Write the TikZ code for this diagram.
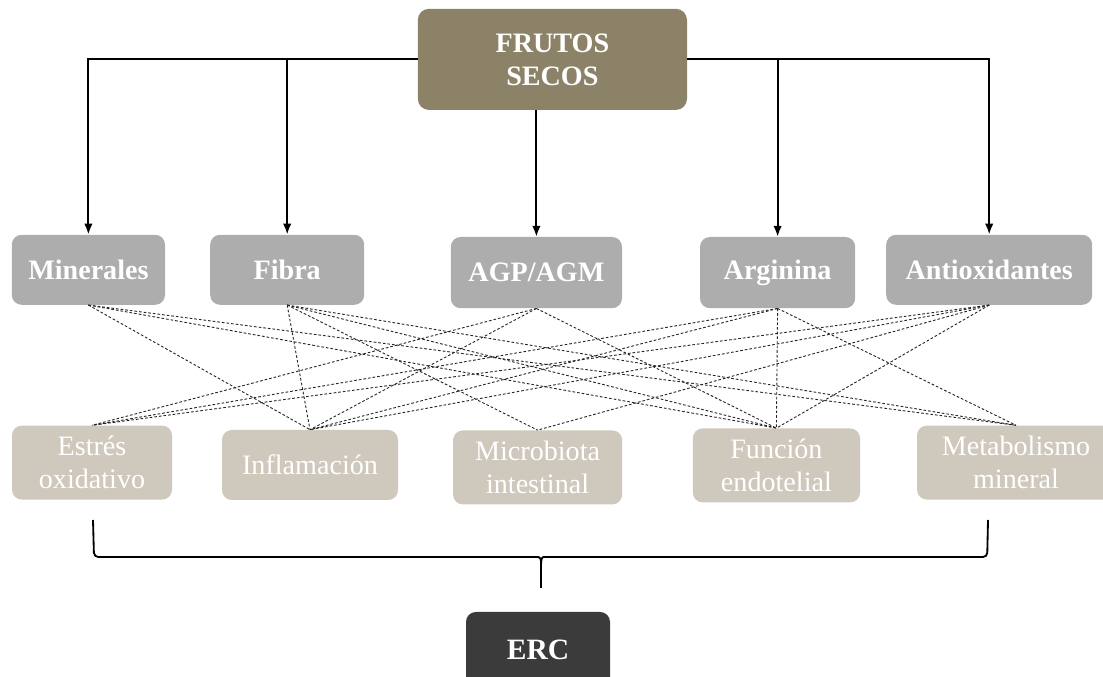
\documentclass[tikz,border=0pt]{standalone}
\usepackage{fontspec}
\setmainfont{Liberation Serif}
\usepackage{tikz}
\usetikzlibrary{arrows.meta}

\definecolor{nutbrown}{HTML}{8B8268}
\definecolor{compgray}{HTML}{ADADAD}
\definecolor{effbeige}{HTML}{CFC9BD}
\definecolor{ercdark}{HTML}{3B3B3B}

\begin{document}
\begin{tikzpicture}[
    >={Latex[length=2.7mm,width=2.1mm]},
    font=\fontsize{20}{23.5}\selectfont,
    every node/.style={align=center, text=white, inner sep=0pt},
    comp/.style={rectangle, rounded corners=7pt, fill=compgray, font=\fontsize{20}{23.5}\selectfont\bfseries, minimum height=1.75cm},
    effect/.style={rectangle, rounded corners=7pt, fill=effbeige, minimum height=1.85cm},
    line/.style={->, line width=1.3pt},
    link/.style={draw=black!85, line width=0.65pt, dash pattern=on 1.9pt off 1.4pt}
]
\useasboundingbox (0,0) rectangle (27.575,16.925);
\node[rectangle, rounded corners=8pt, fill=nutbrown, minimum width=6.73cm, minimum height=2.53cm, font=\fontsize{20}{23.5}\selectfont\bfseries] (frutos) at (13.81,15.44) {FRUTOS\\SECOS};
\node[comp, minimum width=3.83cm] (minerales) at (2.21,10.18) {Minerales};
\node[comp, minimum width=3.85cm] (fibra) at (7.18,10.18) {Fibra};
\node[comp, minimum width=4.28cm, minimum height=1.78cm] (agp) at (13.41,10.11) {AGP/AGM};
\node[comp, minimum width=3.88cm, minimum height=1.78cm] (arginina) at (19.44,10.11) {Arginina};
\node[comp, minimum width=5.15cm] (antiox) at (24.73,10.18) {Antioxidantes};
\node[effect, minimum width=4cm] (estres) at (2.30,5.36) {Estrés\\oxidativo};
\node[effect, minimum width=4.4cm, minimum height=1.75cm] (inflam) at (7.75,5.30) {Inflamación};
\node[effect, minimum width=4.23cm] (microbiota) at (13.44,5.24) {Microbiota\\intestinal};
\node[effect, minimum width=4.18cm] (funcion) at (19.41,5.29) {Función\\endotelial};
\node[effect, minimum width=4.95cm] (metab) at (25.4,5.36) {Metabolismo\\mineral};
\node[rectangle, rounded corners=7pt, fill=ercdark, minimum width=3.6cm, minimum height=1.9cm, font=\fontsize{21}{24}\selectfont\bfseries] (erc) at (13.45,0.675) {ERC};
% tree from the top box
\draw[line] (frutos.west) -| (minerales.north);
\draw[line] (frutos.west) -| (fibra.north);
\draw[line] (frutos.south -| agp.north) -- (agp.north);
\draw[line] (frutos.east) -| (arginina.north);
\draw[line] (frutos.east) -| (antiox.north);
% dashed links
\draw[link] (minerales.south) -- (inflam.north);
\draw[link] (minerales.south) -- (funcion.north);
\draw[link] (minerales.south) -- (metab.north);
\draw[link] (fibra.south) -- (inflam.north);
\draw[link] (fibra.south) -- (microbiota.north);
\draw[link] (fibra.south) -- (funcion.north);
\draw[link] (fibra.south) -- (metab.north);
\draw[link] (agp.south) -- (estres.north);
\draw[link] (agp.south) -- (inflam.north);
\draw[link] (agp.south) -- (funcion.north);
\draw[link] (arginina.south) -- (estres.north);
\draw[link] (arginina.south) -- (inflam.north);
\draw[link] (arginina.south) -- (funcion.north);
\draw[link] (arginina.south) -- (metab.north);
\draw[link] (antiox.south) -- (estres.north);
\draw[link] (antiox.south) -- (inflam.north);
\draw[link] (antiox.south) -- (microbiota.north);
\draw[link] (antiox.south) -- (funcion.north);
% brace
\coordinate (braceL) at (2.325,3.925);
\coordinate (braceR) at (24.7,3.925);
\coordinate (braceT) at (13.525,2.225);
\draw[line width=1.3pt, rounded corners=3pt] (braceL) -- (2.35,3.0) -- (13.36,3.0) .. controls (13.5,3.0) and (13.525,2.95) .. (13.525,2.75) -- (braceT);
\draw[line width=1.3pt, rounded corners=3pt] (braceR) -- (24.68,3.0) -- (13.69,3.0) .. controls (13.55,3.0) and (13.525,2.95) .. (13.525,2.75);
\end{tikzpicture}
\end{document}
